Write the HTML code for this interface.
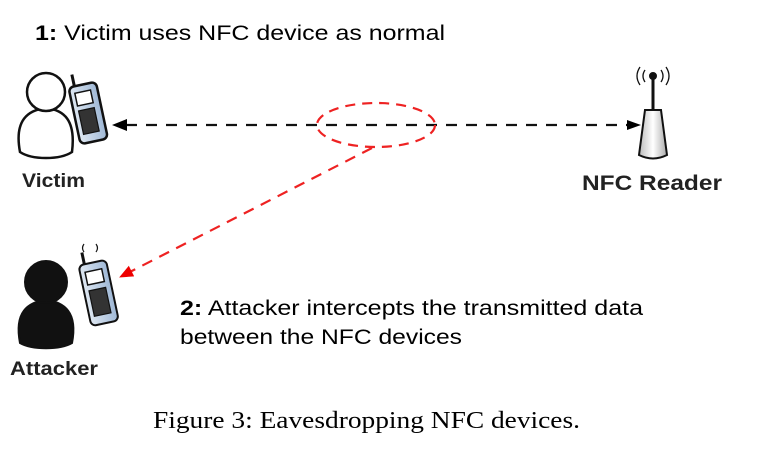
<!DOCTYPE html>
<html><head><style>
html,body{margin:0;padding:0;background:#fff;}
svg{display:block;}
.s{font-family:"Liberation Sans",sans-serif;}
</style></head><body>
<svg width="758" height="456" viewBox="0 0 758 456" xmlns="http://www.w3.org/2000/svg">
<defs>
<marker id="ab" markerWidth="14" markerHeight="12" refX="13" refY="6" orient="auto" markerUnits="userSpaceOnUse"><path d="M0,1 L14,6 L0,11 Z" fill="#000"/></marker>
<marker id="ar" markerWidth="14" markerHeight="14" refX="13" refY="7" orient="auto" markerUnits="userSpaceOnUse"><path d="M0,1 L14,7 L0,13 Z" fill="#e00"/></marker>
<linearGradient id="ph" x1="0" x2="1"><stop offset="0" stop-color="#dfe8f2"/><stop offset="1" stop-color="#9fb8d6"/></linearGradient>
<linearGradient id="rd" x1="0" x2="1"><stop offset="0" stop-color="#bbb"/><stop offset="0.5" stop-color="#fff"/><stop offset="1" stop-color="#aaa"/></linearGradient>
</defs>
<text class="s" x="35" y="40" font-size="21" textLength="410" lengthAdjust="spacingAndGlyphs"><tspan font-weight="bold">1:</tspan>  Victim uses NFC device as normal</text>

<!-- Victim -->
<g stroke="#111" stroke-width="2.5" fill="#fff">
<path d="M20,152 C14,120 28,110 46,108 C64,110 76,120 72,152 C60,160 32,160 20,152 Z"/>
<circle cx="46" cy="92" r="19"/>
<g transform="rotate(-12 88 112)">
<line x1="80" y1="86" x2="80" y2="72" stroke-width="3"/>
<rect x="74" y="84" width="28" height="58" rx="5" fill="url(#ph)"/>
<rect x="79" y="91" width="16" height="13" fill="#fff" stroke-width="1.5"/>
<rect x="79" y="109" width="16" height="24" fill="#333" stroke-width="1.2"/>
</g>
</g>
<text class="s" x="22" y="187" font-size="19" font-weight="bold" fill="#222" textLength="63" lengthAdjust="spacingAndGlyphs">Victim</text>

<!-- dashed line -->
<line x1="126" y1="125" x2="640" y2="125" stroke="#111" stroke-width="2.2" stroke-dasharray="11,9" marker-end="url(#ab)"/>
<path d="M112,125 L127,119 L127,131 Z" fill="#000"/>

<ellipse cx="376" cy="125" rx="59" ry="22" fill="none" stroke="#e22" stroke-width="2.2" stroke-dasharray="10,7"/>
<line x1="372" y1="148" x2="120" y2="277" stroke="#e22" stroke-width="2.2" stroke-dasharray="11,8" marker-end="url(#ar)"/>

<!-- Reader -->
<g stroke="#111" stroke-width="2" fill="none">
<line x1="653" y1="78" x2="653" y2="110" stroke-width="3"/>
<circle cx="653" cy="76" r="3" fill="#111"/>
<path d="M645,70 Q641,76 645,82 M661,70 Q665,76 661,82 M640,67 Q634,76 640,85 M666,67 Q672,76 666,85" stroke-width="1.3"/>
<path d="M645,110 L661,110 L667,155 Q653,162 639,155 Z" fill="url(#rd)"/>
</g>
<text class="s" x="582" y="190" font-size="21" font-weight="bold" fill="#222" textLength="140" lengthAdjust="spacingAndGlyphs">NFC Reader</text>

<!-- Attacker -->
<g stroke="#111" stroke-width="2">
<path d="M20,343 C14,312 28,302 46,300 C64,302 78,312 72,343 C60,350 32,350 20,343 Z" fill="#111"/>
<circle cx="46" cy="282" r="21" fill="#111"/>
<g transform="rotate(-12 98 290)">
<line x1="90" y1="262" x2="90" y2="250" stroke-width="3"/>
<rect x="84" y="262" width="28" height="62" rx="5" fill="url(#ph)"/>
<rect x="89" y="270" width="17" height="13" fill="#fff" stroke-width="1.5"/>
<rect x="89" y="289" width="17" height="26" fill="#333" stroke-width="1.2"/>
</g>
<path d="M84,244 Q81,248 84,252 M96,244 Q99,248 96,252" fill="none" stroke-width="1.2"/>
</g>
<text class="s" x="10" y="375" font-size="19" font-weight="bold" fill="#222" textLength="88" lengthAdjust="spacingAndGlyphs">Attacker</text>

<text class="s" x="180" y="315" font-size="21" textLength="463" lengthAdjust="spacingAndGlyphs"><tspan font-weight="bold">2:</tspan>  Attacker intercepts the transmitted data</text>
<text class="s" x="180" y="344" font-size="21" textLength="282" lengthAdjust="spacingAndGlyphs">between the NFC devices</text>

<text x="153" y="428" font-size="24" font-family="Liberation Serif,serif" textLength="427" lengthAdjust="spacingAndGlyphs">Figure 3: Eavesdropping NFC devices.</text>
</svg>
</body></html>
